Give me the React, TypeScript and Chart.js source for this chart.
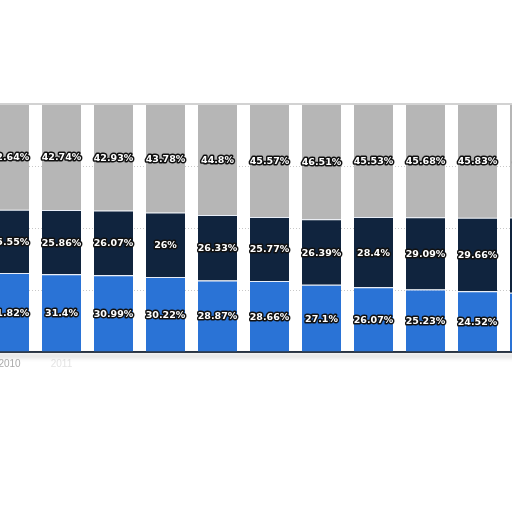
import React, { useEffect, useRef } from "react";
import { Chart, registerables } from "chart.js";

Chart.register(...registerables);

const years = ["2010", "2011", "2012", "2013", "2014", "2015", "2016", "2017", "2018", "2019", "2020"];
const blueSeries = [31.82, 31.4, 30.99, 30.22, 28.87, 28.66, 27.1, 26.07, 25.23, 24.52, 23.9];
const navySeries = [25.55, 25.86, 26.07, 26, 26.33, 25.77, 26.39, 28.4, 29.09, 29.66, 30.3];
const graySeries = [42.64, 42.74, 42.93, 43.78, 44.8, 45.57, 46.51, 45.53, 45.68, 45.83, 45.8];

const labelPlugin = {
  id: "segLabels",
  afterDatasetsDraw(chart: any) {
    const ctx = chart.ctx;
    const area = chart.chartArea;
    ctx.save();
    // top frame line
    ctx.strokeStyle = "#d2d2d2";
    ctx.lineWidth = 2;
    ctx.beginPath();
    ctx.moveTo(area.left, area.top);
    ctx.lineTo(area.right, area.top);
    ctx.stroke();
    // soft shadow below axis
    ctx.filter = "blur(2px)";
    ctx.strokeStyle = "rgba(190,190,190,0.7)";
    ctx.lineWidth = 3;
    ctx.beginPath();
    ctx.moveTo(area.left, area.bottom + 4);
    ctx.lineTo(area.right, area.bottom + 4);
    ctx.stroke();
    ctx.filter = "none";
    ctx.font = "bold 9.5px 'DejaVu Sans'";
    ctx.textAlign = "center";
    ctx.textBaseline = "middle";
    ctx.lineJoin = "round";
    chart.data.datasets.forEach((ds: any, di: number) => {
      const meta = chart.getDatasetMeta(di);
      meta.data.forEach((bar: any, i: number) => {
        const v = ds.data[i];
        const y = (bar.y + bar.base) / 2 + 1;
        const txt = String(v) + "%";
        ctx.strokeStyle = "#111";
        ctx.lineWidth = 3;
        ctx.strokeText(txt, bar.x, y);
        ctx.fillStyle = "#fff";
        ctx.fillText(txt, bar.x, y);
      });
    });
    ctx.restore();
  },
};

export default function App() {
  const ref = useRef<HTMLCanvasElement>(null);
  useEffect(() => {
    if (!ref.current) return;
    const border = { top: 1, left: 0, right: 0, bottom: 0 };
    const chart = new Chart(ref.current, {
      type: "bar",
      data: {
        labels: years,
        datasets: [
          { label: "A", data: blueSeries, backgroundColor: "#2a73d6", borderColor: "#e8eef8", borderWidth: border, borderSkipped: false },
          { label: "B", data: navySeries, backgroundColor: "#10243e", borderColor: "#e8eef8", borderWidth: border, borderSkipped: false },
          { label: "C", data: graySeries, backgroundColor: "#b6b6b6", borderColor: "#ffffff", borderWidth: 0 },
        ],
      },
      options: {
        responsive: false,
        animation: false,
        layout: { padding: { left: 23.5, right: 24.5, top: 104, bottom: 28 } },
        plugins: { legend: { display: false }, tooltip: { enabled: false } },
        datasets: { bar: { categoryPercentage: 1, barPercentage: 0.75 } },
        scales: {
          x: {
            stacked: true,
            grid: { display: false, drawTicks: false },
            border: { display: true, color: "#1e2a3a", width: 2 },
            ticks: {
              padding: 6,
              font: { family: "'Liberation Sans'", size: 10 },
              color: (c: any) => (c.index === 0 ? "#a8a8a8" : c.index === 1 ? "#e4e4e4" : "rgba(0,0,0,0)"),
            },
            afterFit: (s: any) => {
              s.height = 20;
            },
          },
          y: {
            stacked: true,
            min: 0,
            max: 100,
            ticks: { display: false, stepSize: 25 },
            grid: {
              drawTicks: false,
              color: (c: any) => (c.tick && (c.tick.value === 0 || c.tick.value === 100) ? "rgba(0,0,0,0)" : "#c8c8c8"),
            },
            border: { display: false, dash: [1, 2] },
            afterFit: (s: any) => {
              s.width = 0;
            },
          },
        },
      },
      plugins: [labelPlugin],
    });
    return () => chart.destroy();
  }, []);
  return (
    <div style={{ position: "fixed", left: 0, top: 0, width: 512, height: 512, overflow: "hidden", background: "#fff" }}>
      <canvas ref={ref} width={620} height={400} style={{ position: "absolute", left: -40, top: 0 }} />
    </div>
  );
}
